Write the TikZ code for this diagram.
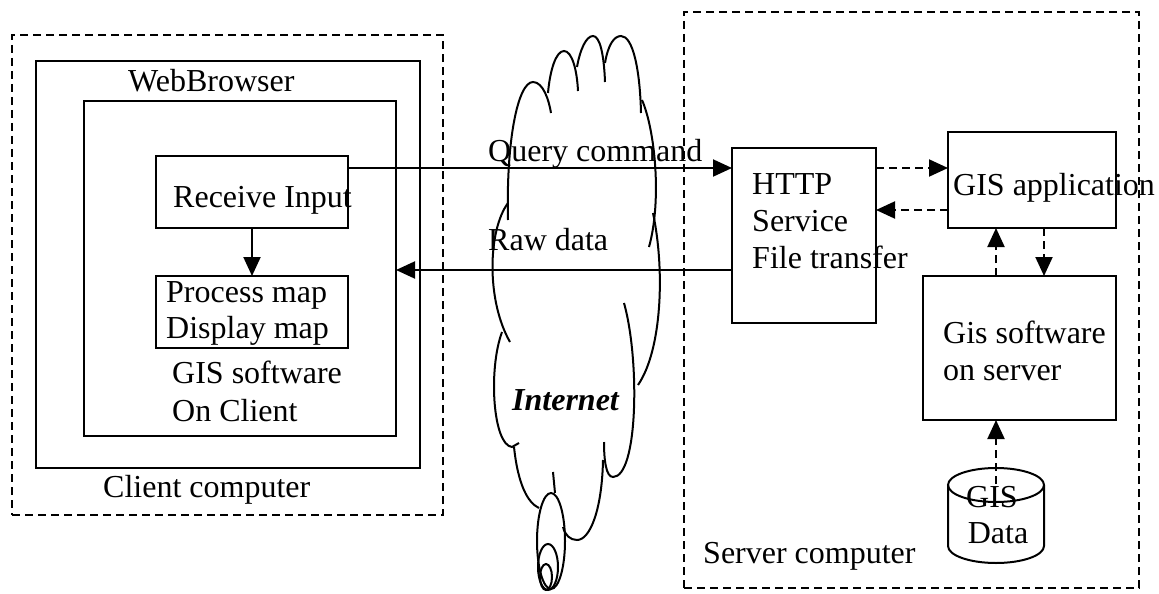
\documentclass[tikz,border=0pt]{standalone}
\usepackage{fontspec}
\setmainfont{Liberation Serif}
\usetikzlibrary{arrows.meta}
\begin{document}
\begin{tikzpicture}[x=1pt,y=-1pt,
  box/.style={draw,line width=2pt,rectangle,inner sep=0pt,outer sep=0pt},
  dbox/.style={draw,line width=1.7pt,rectangle,inner sep=0pt,outer sep=0pt,dash pattern=on 8pt off 5pt},
  txt/.style={anchor=base west,inner sep=0pt,font=\fontsize{32}{37}\selectfont},
  arr/.style={line width=2pt,-{Triangle[length=19pt,width=17pt]}},
  darr/.style={arr,dash pattern=on 8pt off 5pt},
  cloudline/.style={line width=2pt}]
\useasboundingbox (0,0) rectangle (1159,594);

% containers
\node[dbox,minimum width=431pt,minimum height=480pt] (client) at (227.5,275) {};
\node[dbox,minimum width=455pt,minimum height=576pt] (server) at (911.5,300) {};
\node[box,minimum width=384pt,minimum height=407pt] (outer) at (228,264.5) {};
\node[box,minimum width=312pt,minimum height=335pt] (inner) at (240,268.5) {};

% boxes
\node[box,minimum width=192pt,minimum height=72pt] (rin) at (252,192) {};
\node[box,minimum width=192pt,minimum height=72pt] (proc) at (252,312) {};
\node[box,minimum width=144pt,minimum height=175pt] (http) at (804,235.5) {};
\node[box,minimum width=168pt,minimum height=96pt] (gisapp) at (1032,180) {};
\node[box,minimum width=193pt,minimum height=144pt] (gissw) at (1019.5,348) {};

% database cylinder
\draw[line width=2pt] (996,485) ellipse[x radius=48, y radius=17];
\draw[line width=2pt] (948,485) -- (948,546) arc[start angle=180,end angle=0,x radius=48,y radius=17] -- (1044,485);
\coordinate (dbtop) at (996,484);

% helper coordinates for connector heights
\coordinate (yq) at (0,168);
\coordinate (yr) at (0,210);
\coordinate (yraw) at (0,270);
\coordinate (xdn) at (1044,0);

% connectors
\draw[arr] (rin.east |- yq) -- (http.west |- yq);
\draw[arr] (http.west |- yraw) -- (inner.east |- yraw);
\draw[arr] (rin.south) -- (proc.north);
\draw[darr] (http.east |- yq) -- (gisapp.west |- yq);
\draw[darr] (gisapp.west |- yr) -- (http.east |- yr);
\draw[darr] (gissw.north -| dbtop) -- (gisapp.south -| dbtop);
\draw[darr] (gisapp.south -| xdn) -- (gissw.north -| xdn);
\draw[darr] (dbtop) -- (gissw.south -| dbtop);

% cloud
\draw[cloudline] (508,220) .. controls (506,140) and (518,82) .. (533,82) .. controls (543,82) and (549,100) .. (551,113);
\draw[cloudline] (548,93) .. controls (550,70) and (556,51) .. (564,51) .. controls (572,51) and (577,70) .. (578,91);
\draw[cloudline] (577,67) .. controls (580,50) and (586,36) .. (593,36) .. controls (600,36) and (604,55) .. (605,82);
\draw[cloudline] (605,63) .. controls (608,45) and (614,36) .. (621,36) .. controls (633,36) and (640,70) .. (641,113);
\draw[cloudline] (642,100) .. controls (655,130) and (662,200) .. (649,247);
\draw[cloudline] (653,213) .. controls (665,270) and (662,350) .. (638,385);
\draw[cloudline] (624,303) .. controls (640,360) and (638,477) .. (613,477) .. controls (606,477) and (604,460) .. (604,442);
\draw[cloudline] (603,460) .. controls (602,510) and (590,540) .. (577,540) .. controls (570,540) and (565,535) .. (563,527);
\draw[cloudline] (514,447) .. controls (518,485) and (528,503) .. (539,508);
\draw[cloudline] (553,472) -- (555,493);
\draw[cloudline] (502,332) .. controls (488,370) and (493,445) .. (512,447) -- (519,443);
\draw[cloudline] (508,203) .. controls (488,230) and (486,300) .. (510,342);
\draw[cloudline] (551,541) ellipse[x radius=14, y radius=48];
\draw[cloudline] (548,567) ellipse[x radius=10, y radius=23];
\draw[cloudline] (546,577) ellipse[x radius=6, y radius=13];

% texts
\node[txt] (t1) at (128,92) {WebBrowser};
\node[txt] (t2) at (173,207) {Receive Input};
\node[txt] (t3) at (166,302) {Process map};
\node[txt] (t4) at (166,338) {Display map};
\node[txt] (t5) at (172,383) {GIS software};
\node[txt] (t6) at (172,421) {On Client};
\node[txt] (t7) at (103,497) {Client computer};
\node[txt] (t8) at (488,161) {Query command};
\node[txt] (t9) at (488,250) {Raw data};
\node[txt] (t10) at (752,194) {HTTP};
\node[txt] (t11) at (752,231) {Service};
\node[txt] (t12) at (752,268) {File transfer};
\node[txt] (t13) at (953,195) {GIS application};
\node[txt] (t14) at (943,343) {Gis software};
\node[txt] (t15) at (943,380) {on server};
\node[txt,anchor=base] (t16) at (992,507) {GIS};
\node[txt,anchor=base] (t17) at (998,543) {Data};
\node[txt,font=\fontsize{32}{37}\selectfont\bfseries\itshape] (t18) at (512,410) {Internet};
\node[txt] (t19) at (703,563) {Server computer};
\end{tikzpicture}
\end{document}
